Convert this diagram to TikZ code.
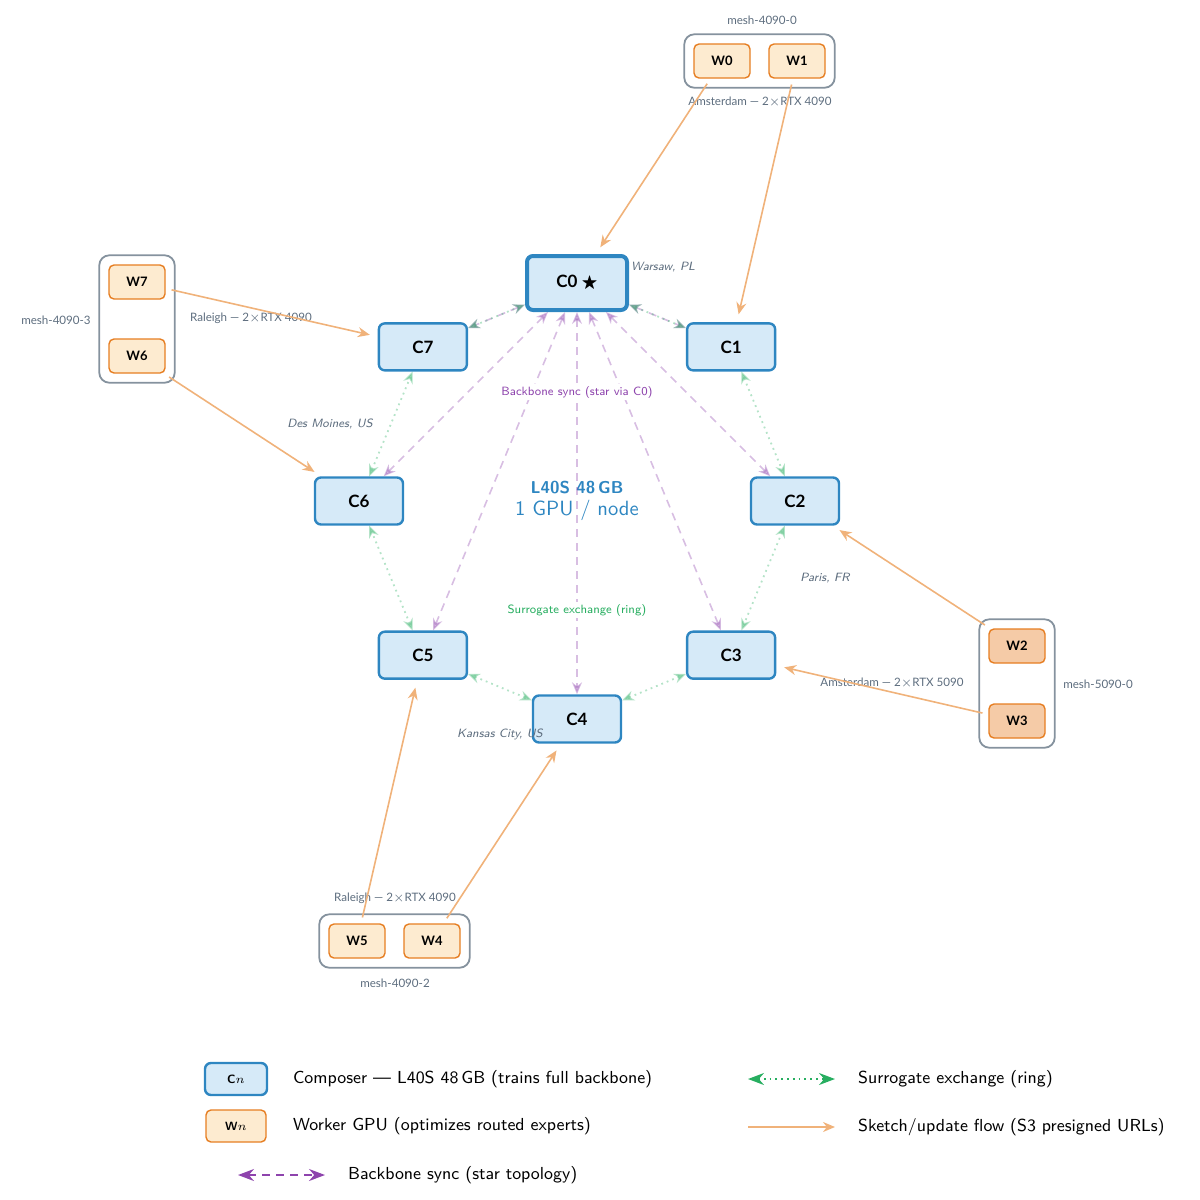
\documentclass[tikz,border=0pt]{standalone}
\usepackage{amsmath, amssymb}
\usepackage{fontspec}
\newfontfamily\latofont[Ligatures=TeX]{Lato}
\usetikzlibrary{arrows.meta}
\usetikzlibrary{fit}

\definecolor{compblue}{HTML}{2E86C1}
\definecolor{compfill}{HTML}{D6EAF8}
\definecolor{workorange}{HTML}{E67E22}
\definecolor{workfill}{HTML}{FDEBD0}
\definecolor{workfilldark}{HTML}{F5CBA7}
\definecolor{meshgray}{HTML}{85929E}
\definecolor{labelgray}{HTML}{5D6D7E}
\definecolor{syncpurple}{HTML}{8E44AD}
\definecolor{ringgreen}{HTML}{27AE60}
\definecolor{flowor}{HTML}{F0B27A}

\tikzset{
  composer/.style={draw=compblue, fill=compfill, line width=1.2pt, rounded corners=3pt,
    minimum width=44pt, minimum height=23.5pt, font=\latofont\bfseries\fontsize{8.5}{10}\selectfont},
  worker/.style={draw=workorange, fill=workfill, line width=0.7pt, rounded corners=2.5pt,
    minimum width=28pt, minimum height=17pt, font=\latofont\bfseries\fontsize{6.5}{8}\selectfont},
  mesh/.style={draw=meshgray, line width=0.9pt, rounded corners=5pt, inner sep=4.5pt},
  meshlbl/.style={text=labelgray, font=\latofont\fontsize{5.8}{7}\selectfont},
  city/.style={text=labelgray, font=\sffamily\itshape\fontsize{6}{7}\selectfont},
  sync/.style={syncpurple, opacity=0.35, dash pattern=on 4pt off 3pt, line width=0.8pt, {Stealth[length=6pt,width=5pt]}-{Stealth[length=6pt,width=5pt]}},
  ring/.style={ringgreen, opacity=0.35, dotted, line width=0.9pt, {Stealth[length=6pt,width=5pt]}-{Stealth[length=6pt,width=5pt]}},
  flow/.style={flowor, line width=0.8pt, -{Stealth[length=6pt,width=5pt]}, shorten <=3pt, shorten >=4pt},
  legtxt/.style={anchor=west, font=\sffamily\fontsize{8.7}{11}\selectfont}
}

\begin{document}
\begin{tikzpicture}[x=0.5pt, y=-0.5pt]
\useasboundingbox (0,0) rectangle (1200,1200);

% composers on the ring
\node[composer, line width=2pt, minimum width=50pt, minimum height=27pt] (C0) at (577,283) {C0 $\bigstar$};
\foreach \i in {1,...,7}{\node[composer] (C\i) at ({577+218*sin(45*\i)},{501-218*cos(45*\i)}) {C\i};}

\node[text=compblue, align=center] (gpuinfo) at (577,501) {{\sffamily\bfseries\fontsize{8.6}{10}\selectfont L40S 48\,GB}\\[-1pt]{\sffamily\fontsize{10.3}{12}\selectfont 1 GPU / node}};

\foreach \i in {1,...,7}{\draw[sync] (C0) -- (C\i);}
\foreach \i [evaluate=\i as \j using {int(mod(\i+1,8))}] in {0,...,7}{\draw[ring] (C\i) -- (C\j);}

\node[text=syncpurple, font=\sffamily\fontsize{6}{7}\selectfont, fill=white, inner sep=1pt] (synclbl) at (577,392) {Backbone sync (star via C0)};
\node[text=ringgreen, font=\sffamily\fontsize{6}{7}\selectfont, fill=white, inner sep=1pt] (ringlbl) at (577,610) {Surrogate exchange (ring)};

\node[city, anchor=west] (c0city) at (624,267) {Warsaw, PL};
\node[city] (c6city) at (330,424) {Des Moines, US};
\node[city] (c2city) at (825,578) {Paris, FR};
\node[city] (c4city) at (500,734) {Kansas City, US};

% workers
\node[worker] (W0) at (722,61) {W0};
\node[worker] (W1) at (797,61) {W1};
\node[mesh, fit=(W0)(W1)] (M0) {};
\node[meshlbl] (M0name) at (762,20) {mesh-4090-0};
\node[meshlbl] (M0site) at (760,102) {Amsterdam --- 2$\times$RTX 4090};

\node[worker] (W7) at (137,282) {W7};
\node[worker] (W6) at (137,356) {W6};
\node[mesh, fit=(W7)(W6)] (M3) {};
\node[meshlbl] (M3name) at (56,320) {mesh-4090-3};
\node[meshlbl] (M3site) at (251,318) {Raleigh --- 2$\times$RTX 4090};

\node[worker, fill=workfilldark] (W2) at (1017,646) {W2};
\node[worker, fill=workfilldark] (W3) at (1017,721) {W3};
\node[mesh, fit=(W2)(W3)] (M1) {};
\node[meshlbl] (M1name) at (1098,684) {mesh-5090-0};
\node[meshlbl] (M1site) at (892,683) {Amsterdam --- 2$\times$RTX 5090};

\node[worker] (W5) at (357,941) {W5};
\node[worker] (W4) at (432,941) {W4};
\node[mesh, fit=(W5)(W4)] (M2) {};
\node[meshlbl] (M2name) at (395,983) {mesh-4090-2};
\node[meshlbl] (M2site) at (395,898) {Raleigh --- 2$\times$RTX 4090};

\foreach \i in {0,...,7}{\draw[flow] (W\i) -- (C\i);}

% legend
\node[composer, minimum width=31pt, minimum height=16pt, font=\sffamily\bfseries\fontsize{6}{7}\selectfont] (legC) at (236,1079) {C$n$};
\node[legtxt] (legCtxt) at (286,1079) {Composer --- L40S 48\,GB (trains full backbone)};
\node[worker, minimum width=30pt, minimum height=16pt, font=\sffamily\bfseries\fontsize{6}{7}\selectfont] (legW) at (236,1126) {W$n$};
\node[legtxt] (legWtxt) at (286,1126) {Worker GPU (optimizes routed experts)};

\coordinate (ls0) at (238,1175);
\coordinate (ls1) at (325,1175);
\draw[sync, opacity=1, {Stealth[length=8pt,width=6pt]}-{Stealth[length=8pt,width=6pt]}] (ls0) -- (ls1);
\node[legtxt] (legStxt) at (341,1175) {Backbone sync (star topology)};

\coordinate (lr0) at (748,1079);
\coordinate (lr1) at (835,1079);
\draw[ring, opacity=1, {Stealth[length=8pt,width=6pt]}-{Stealth[length=8pt,width=6pt]}] (lr0) -- (lr1);
\node[legtxt] (legRtxt) at (851,1079) {Surrogate exchange (ring)};

\coordinate (lf0) at (748,1127);
\coordinate (lf1) at (835,1127);
\draw[flow, shorten <=0pt, shorten >=0pt] (lf0) -- (lf1);
\node[legtxt] (legFtxt) at (851,1127) {Sketch/update flow (S3 presigned URLs)};
\end{tikzpicture}
\end{document}
